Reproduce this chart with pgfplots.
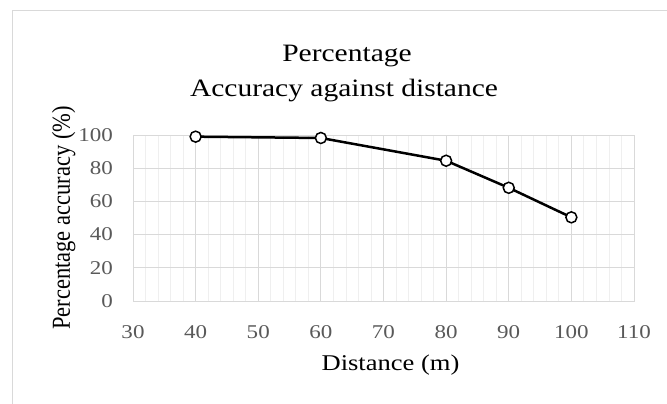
\documentclass[border=0pt]{standalone}
\usepackage{graphicx}
\usepackage{pgfplots}
\pgfplotsset{compat=1.18}
\usepackage{fontspec}
\setmainfont{Liberation Serif}
\definecolor{majorgrid}{HTML}{D9D9D9}
\definecolor{minorgrid}{HTML}{EFEFEF}
\definecolor{ticktext}{HTML}{595959}
\definecolor{chartframe}{HTML}{D9D9D9}
% the reference text is a little wider than plain Times
\newcommand{\wide}[1]{\scalebox{1.18}[1]{#1}}
\begin{document}
\begin{tikzpicture}
\path[use as bounding box] (0,0) rectangle (667bp,404bp);
% chart area frame (top and left edges visible)
\draw[chartframe, line width=0.8bp] (12bp,0) -- (12bp,393.5bp) -- (667bp,393.5bp);
% two-line title
\node[anchor=base, font=\fontsize{25bp}{30bp}\selectfont] at (347bp,342.3bp) {\wide{Percentage}};
\node[anchor=base, font=\fontsize{25bp}{30bp}\selectfont] at (344bp,307.5bp) {\wide{Accuracy against distance}};
\begin{axis}[
    at={(133bp,103bp)},
    anchor=south west,
    scale only axis,
    width=501bp,
    height=166bp,
    xmin=30, xmax=110,
    ymin=0, ymax=100,
    xtick={30,40,...,110},
    ytick={0,20,...,100},
    minor x tick num=4,
    xmajorgrids=true,
    xminorgrids=true,
    ymajorgrids=true,
    major grid style={majorgrid, line width=0.8bp},
    minor grid style={minorgrid, line width=0.8bp},
    axis line style={majorgrid, line width=0.8bp},
    major tick length=0pt,
    minor tick length=0pt,
    /pgf/number format/assume math mode=true,
    xticklabel={\wide{\pgfmathprintnumber{\tick}}},
    yticklabel={\wide{\pgfmathprintnumber{\tick}}},
    tick label style={font=\fontsize{19.5bp}{23bp}\selectfont, text=ticktext},
    xticklabel style={anchor=north, inner sep=0pt, yshift=-24bp},
    yticklabel style={anchor=east, inner sep=0pt, xshift=-20bp},
    xlabel={\wide{Distance (m)}},
    ylabel={\scalebox{1}[1.15]{Percentage accuracy (\%)}},
    label style={font=\fontsize{22.5bp}{26bp}\selectfont},
    xlabel style={at={(axis description cs:0.514,-0.416)}, anchor=base},
    ylabel style={at={(axis description cs:-0.126,0.5)}, anchor=base, rotate=0},
    clip=false,
]
\addplot[black, line width=2.5bp, mark=*,
         mark options={fill=white, draw=black, line width=1.5bp}, mark size=5.5bp]
    coordinates{
        (40, 99)
        (60, 98.2)
        (80, 84.5)
        (90, 68.2)
        (100, 50.4)
    };
\end{axis}
\end{tikzpicture}
\end{document}
